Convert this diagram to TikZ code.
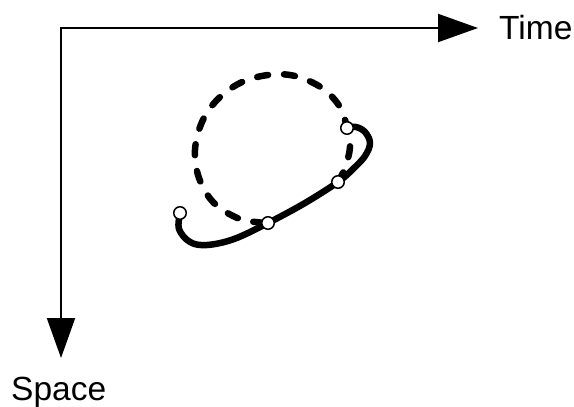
\documentclass[tikz,border=0pt]{standalone}
\usepackage{fontspec}
\setmainfont{Liberation Sans}
\usetikzlibrary{arrows.meta}
\begin{document}
\begin{tikzpicture}[x=1pt,y=-1pt,
  axis/.style={line width=2pt,{Triangle[length=40pt,width=28pt]}-{Triangle[length=40pt,width=28pt]}},
  solidpath/.style={line width=6.5pt,line cap=round,line join=round},
  dashpath/.style={line width=6.5pt,line cap=round,dash pattern=on 11pt off 16pt},
  dot/.style={circle,draw,fill=white,line width=1.5pt,minimum size=12.5pt,inner sep=0pt},
  label/.style={font=\fontsize{33.5}{38}\selectfont,inner sep=0pt}]
\useasboundingbox (0,0) rectangle (574,407);
\coordinate (O) at (61,28);
\coordinate (Tend) at (478,28);
\coordinate (Send) at (61,358);
\draw[axis] (Tend) -- (O) -- (Send);
\node[label,anchor=base west] (time) at (499,39) {Time};
\node[label,anchor=base west] (space) at (11,400) {Space};
\coordinate (P1) at (180,213);
\coordinate (P2) at (268,223);
\coordinate (P3) at (338,182);
\coordinate (P4) at (347,128);
\draw[dashpath] plot[smooth,tension=0.6] coordinates {(P3) (345,168) (350,147) (P4) (340,107) (322,88) (295,76) (268,75) (240,83) (217,100) (202,122) (195,150) (199,178) (214,203) (240,219) (P2)};
\draw[solidpath] plot[smooth,tension=0.6] coordinates {(P1) (179,229) (190,242) (207,245) (234,239) (P2) (305,203) (P3) (353,169) (365,156) (370,143) (365,132) (356,127) (P4)};
\node[dot] (d1) at (P1) {};
\node[dot] (d2) at (P2) {};
\node[dot] (d3) at (P3) {};
\node[dot] (d4) at (P4) {};
\end{tikzpicture}
\end{document}
